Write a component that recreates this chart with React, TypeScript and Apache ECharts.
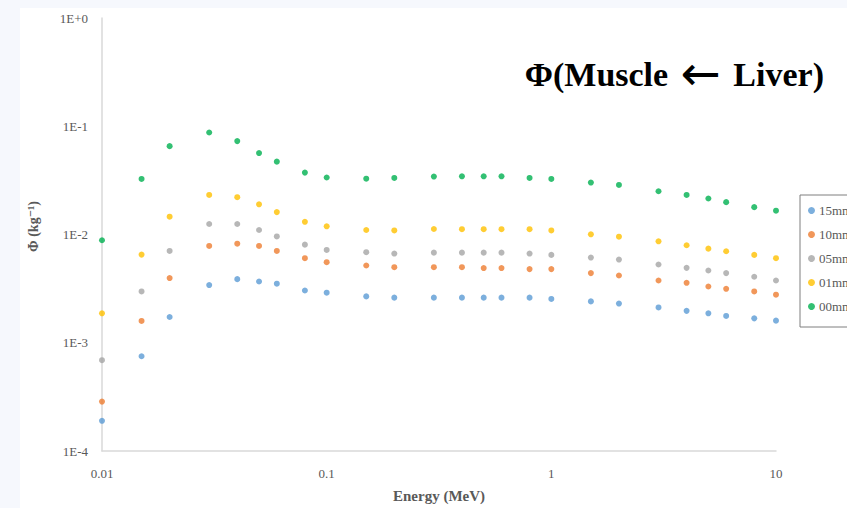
import React, { useEffect, useRef } from "react";
import * as echarts from "echarts";

const energies = [0.01, 0.015, 0.02, 0.03, 0.04, 0.05, 0.06, 0.08, 0.1, 0.15, 0.2, 0.3, 0.4, 0.5, 0.6, 0.8, 1, 1.5, 2, 3, 4, 5, 6, 8, 10];

const seriesNames = ["15mm", "10mm", "05mm", "01mm", "00mm"];
const seriesColors = ["#5b9bd5", "#ed7d31", "#a5a5a5", "#ffc000", "#00b050"];

const phi15 = [0.00019, 0.00075, 0.00173, 0.00341, 0.00387, 0.00368, 0.00351, 0.00304, 0.0029, 0.00268, 0.00261, 0.00261, 0.00261, 0.00261, 0.00261, 0.00261, 0.00254, 0.00241, 0.0023, 0.00212, 0.00197, 0.00187, 0.00177, 0.00168, 0.0016];
const phi10 = [0.000286, 0.00159, 0.00396, 0.00784, 0.00823, 0.00784, 0.00705, 0.00604, 0.00555, 0.00517, 0.00499, 0.00499, 0.00499, 0.0049, 0.0049, 0.00479, 0.00479, 0.0044, 0.00418, 0.00376, 0.00358, 0.00331, 0.00315, 0.00298, 0.00278];
const phi05 = [0.00069, 0.00298, 0.00705, 0.0125, 0.0125, 0.011, 0.0096, 0.00806, 0.0072, 0.00686, 0.00667, 0.0068, 0.0068, 0.0068, 0.0068, 0.00667, 0.00648, 0.00612, 0.00587, 0.00528, 0.00492, 0.00465, 0.0044, 0.00407, 0.00376];
const phi01 = [0.00187, 0.00652, 0.0146, 0.0232, 0.0221, 0.019, 0.0161, 0.0131, 0.0119, 0.011, 0.0109, 0.01124, 0.0112, 0.0112, 0.0112, 0.0112, 0.0109, 0.01004, 0.00954, 0.00865, 0.00796, 0.0074, 0.007, 0.00648, 0.00604];
const phi00 = [0.00885, 0.0326, 0.0655, 0.0876, 0.0729, 0.0565, 0.0471, 0.0373, 0.0336, 0.0328, 0.0333, 0.0343, 0.0345, 0.0345, 0.0345, 0.0333, 0.0326, 0.0302, 0.0287, 0.0251, 0.0232, 0.0215, 0.0199, 0.0179, 0.0166];

const allSeries = [phi15, phi10, phi05, phi01, phi00];

const xTickLabels: Record<string, string> = { "-2": "0.01", "-1": "0.1", "0": "1", "1": "10" };

export default function App() {
  const ref = useRef<HTMLDivElement>(null);
  useEffect(() => {
    if (!ref.current) return;
    const chart = echarts.init(ref.current, null, { renderer: "svg" });
    const font = "'Liberation Serif', 'DejaVu Serif', serif";
    chart.setOption({
      animation: false,
      backgroundColor: "transparent",
      title: {
        text: "{t|Φ(Muscle }{a|←}{t| Liver)}",
        right: 18,
        top: 50,
        textStyle: {
          fontFamily: font,
          fontWeight: "bold",
          fontSize: 34,
          color: "#000",
          rich: {
            t: { fontFamily: font, fontWeight: "bold", fontSize: 34, color: "#000", lineHeight: 38 },
            a: { fontFamily: "'DejaVu Sans', sans-serif", fontWeight: "normal", fontSize: 48, color: "#000", lineHeight: 38, padding: [0, 4, 2, 4] },
          },
        },
      },
      grid: { left: 102, right: 71, top: 18, bottom: 55 },
      legend: {
        orient: "vertical",
        left: 800,
        top: 195,
        data: seriesNames,
        icon: "circle",
        itemWidth: 7,
        itemHeight: 7,
        itemGap: 11,
        padding: [9, 5, 14, 8],
        borderColor: "#7f7f7f",
        borderWidth: 1,
        textStyle: { fontFamily: font, fontSize: 13, color: "#595959", padding: [0, 0, 0, -1] },
      },
      xAxis: {
        type: "log",
        logBase: 10,
        min: 0.01,
        max: 10,
        name: "Energy (MeV)",
        nameLocation: "middle",
        nameGap: 37,
        nameTextStyle: { fontFamily: font, fontWeight: "bold", fontSize: 15, color: "#595959" },
        axisLine: { lineStyle: { color: "#d9d9d9", width: 1.5 } },
        axisTick: { show: false },
        splitLine: { show: false },
        minorTick: { show: false },
        axisLabel: {
          fontFamily: font,
          fontSize: 13,
          color: "#595959",
          margin: 16,
          formatter: (v: number) => xTickLabels[String(Math.round(Math.log10(v)))] ?? String(v),
        },
      },
      yAxis: {
        type: "log",
        logBase: 10,
        min: 0.0001,
        max: 1,
        name: "Φ (kg⁻¹)",
        nameLocation: "middle",
        nameGap: 62,
        nameTextStyle: { fontFamily: font, fontWeight: "bold", fontSize: 14, color: "#595959", padding: [0, 0, 0, 16] },
        axisLine: { show: true, lineStyle: { color: "#d9d9d9", width: 1.5 } },
        axisTick: { show: false },
        splitLine: { show: false },
        axisLabel: {
          fontFamily: font,
          fontSize: 13,
          color: "#595959",
          margin: 14,
          formatter: (v: number) => {
            const e = Math.round(Math.log10(v));
            return e >= 0 ? "1E+" + e : "1E" + e;
          },
        },
      },
      series: seriesNames.map((name, i) => ({
        name,
        type: "scatter",
        symbol: "circle",
        symbolSize: 6,
        itemStyle: { color: seriesColors[i] },
        data: energies.map((x, j) => [x, allSeries[i][j]]),
      })),
    });
    return () => chart.dispose();
  }, []);
  return (
    <div style={{ position: "fixed", left: 0, top: 0, width: 847, height: 508, background: "#f6f8fd", overflow: "hidden" }}>
      <div style={{ position: "absolute", left: 20, top: 8, width: 827, height: 500, background: "#ffffff" }} />
      <div ref={ref} style={{ position: "absolute", left: 0, top: 0, width: 847, height: 508 }} />
    </div>
  );
}
